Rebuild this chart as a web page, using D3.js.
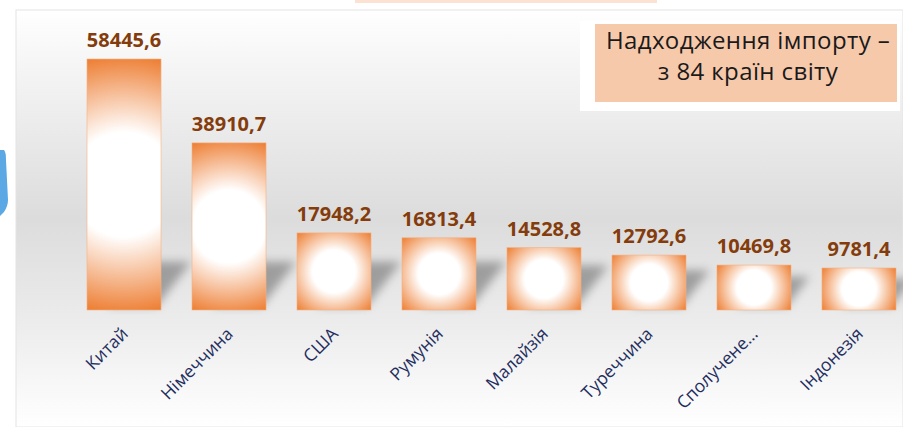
<!DOCTYPE html>
<html>
<head>
<meta charset="utf-8">
<script src="https://cdn.jsdelivr.net/npm/d3@7"></script>
<style>
  body { margin: 0; background: #fff; }
  svg { display: block; }
</style>
</head>
<body>
<svg width="903" height="427"></svg>
<script>
// data
const countries = ["Китай", "Німеччина", "США", "Румунія", "Малайзія", "Туреччина", "Сполучене…", "Індонезія"];
const imports = [58445.6, 38910.7, 17948.2, 16813.4, 14528.8, 12792.6, 10469.8, 9781.4];
const titleLines = ["Надходження імпорту –", "з 84 країн світу"];

const svg = d3.select("svg");
const defs = svg.append("defs");

// panel background: grey in the middle, white top and bottom
let bg = defs.append("linearGradient").attr("id", "bg").attr("x1", 0).attr("y1", 0).attr("x2", 0).attr("y2", 1);
bg.append("stop").attr("offset", "0%").attr("stop-color", "#ffffff");
bg.append("stop").attr("offset", "12%").attr("stop-color", "#f6f6f6");
bg.append("stop").attr("offset", "50%").attr("stop-color", "#dcdcdc");
bg.append("stop").attr("offset", "75%").attr("stop-color", "#ececec");
bg.append("stop").attr("offset", "100%").attr("stop-color", "#ffffff");

defs.append("filter").attr("id", "blur").attr("x", "-50%").attr("y", "-50%").attr("width", "200%").attr("height", "200%")
  .append("feGaussianBlur").attr("stdDeviation", 5);

// bits of the slide around the chart
svg.append("rect").attr("x", 355).attr("y", 0).attr("width", 302).attr("height", 3).attr("fill", "#fbe2d2");
svg.append("path").attr("d", "M0,150 L4,150 Q6,152 6,160 L8,200 Q8,206 4,212 L0,216 Z").attr("fill", "#5ba8e5");

svg.append("rect").attr("x", 16).attr("y", 10).attr("width", 887).attr("height", 417)
  .attr("fill", "url(#bg)").attr("stroke", "#e4e4e4");

const x = d3.scaleBand().domain(countries).range([87, 896]).paddingInner(0.295).paddingOuter(0);
const y = d3.scaleLinear().domain([0, d3.max(imports)]).range([310, 59]);

const rows = countries.map((c, i) => ({ name: c, value: imports[i], i: i }));

// shadows cast up and to the right
svg.append("g").selectAll("path").data(rows).join("path")
  .attr("d", d => {
    const l = x(d.name), r = l + x.bandwidth();
    const k = Math.min((y(0) - y(d.value)) * 0.5, 34);
    return `M${l + 20},${y(0) - 4} L${r - 4},${y(0) - 4} L${r - 4 + k},${y(0) - 4 - k * 1.3} L${l + 20 + k},${y(0) - 4 - k * 1.3} Z`;
  })
  .attr("fill", "#6e6e6e").attr("opacity", 0.6).attr("filter", "url(#blur)");

// one radial gradient per bar: white heart, orange edges
rows.forEach(d => {
  const w = x.bandwidth(), h = y(0) - y(d.value);
  const g = defs.append("radialGradient").attr("id", "bar" + d.i).attr("gradientUnits", "userSpaceOnUse")
    .attr("cx", x(d.name) + w / 2).attr("cy", y(d.value) + h / 2)
    .attr("r", Math.sqrt(w * w + h * h) / 2);
  g.append("stop").attr("offset", "0%").attr("stop-color", "#ffffff");
  g.append("stop").attr("offset", "40%").attr("stop-color", "#ffffff");
  g.append("stop").attr("offset", "100%").attr("stop-color", "#ed7d31");
});

svg.append("g").selectAll("rect").data(rows).join("rect")
  .attr("x", d => x(d.name))
  .attr("y", d => y(d.value))
  .attr("width", x.bandwidth())
  .attr("height", d => y(0) - y(d.value))
  .attr("fill", d => "url(#bar" + d.i + ")")
  .attr("stroke", "#f4b183").attr("stroke-width", 0.6);

svg.append("g").selectAll("text").data(rows).join("text")
  .attr("x", d => x(d.name) + x.bandwidth() / 2)
  .attr("y", d => y(d.value) - 12)
  .attr("text-anchor", "middle")
  .attr("font-family", "Open Sans")
  .attr("font-weight", 700)
  .attr("font-size", 20)
  .attr("fill", "#843c0c")
  .text(d => d3.format(".1f")(d.value).replace(".", ","));

svg.append("g").selectAll("text").data(rows).join("text")
  .attr("transform", d => `translate(${x(d.name) + x.bandwidth() / 2 + 5},${335}) rotate(-45)`)
  .attr("text-anchor", "end")
  .attr("font-family", "Open Sans")
  .attr("font-size", 17.5)
  .attr("fill", "#1f2e5e")
  .text(d => d.name);

// title box
svg.append("rect").attr("x", 580).attr("y", 21).attr("width", 320).attr("height", 90).attr("fill", "#ffffff");
svg.append("rect").attr("x", 595).attr("y", 24).attr("width", 302).attr("height", 78).attr("fill", "#f7c9ab");
svg.append("g").selectAll("text").data(titleLines).join("text")
  .attr("x", 748)
  .attr("y", (d, i) => 49 + i * 31)
  .attr("text-anchor", "middle")
  .attr("font-family", "Open Sans")
  .attr("font-size", 24)
  .attr("letter-spacing", 0.4)
  .attr("fill", "#1a1a1a")
  .text(d => d);
</script>
</body>
</html>
